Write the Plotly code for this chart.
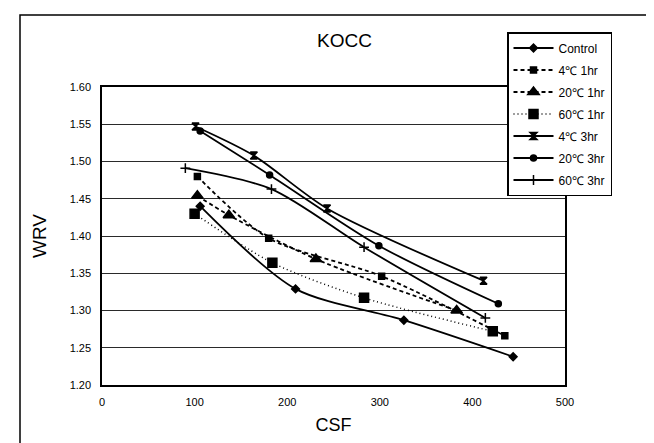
import plotly.graph_objects as go

# ---- data ----
series_names = ["Control", "4℃ 1hr", "20℃ 1hr", "60℃ 1hr", "4℃ 3hr", "20℃ 3hr", "60℃ 3hr"]

control_x = [106, 209, 326, 444]
control_y = [1.440, 1.329, 1.287, 1.238]

c4_1hr_x = [103, 180, 302, 435]
c4_1hr_y = [1.480, 1.397, 1.346, 1.266]

c20_1hr_x = [103, 137, 231, 383]
c20_1hr_y = [1.454, 1.428, 1.369, 1.300]

c60_1hr_x = [100, 184, 283, 422]
c60_1hr_y = [1.430, 1.364, 1.317, 1.272]

c4_3hr_x = [101, 164, 243, 412]
c4_3hr_y = [1.547, 1.508, 1.437, 1.340]

c20_3hr_x = [106, 181, 299, 428]
c20_3hr_y = [1.541, 1.482, 1.387, 1.309]

c60_3hr_x = [90, 183, 283, 414]
c60_3hr_y = [1.491, 1.463, 1.385, 1.290]

x_ticks = [0, 100, 200, 300, 400, 500]
y_ticks = [1.20, 1.25, 1.30, 1.35, 1.40, 1.45, 1.50, 1.55, 1.60]
y_tick_labels = ["1.20", "1.25", "1.30", "1.35", "1.40", "1.45", "1.50", "1.55", "1.60"]

xs = [control_x, c4_1hr_x, c20_1hr_x, c60_1hr_x, c4_3hr_x, c20_3hr_x, c60_3hr_x]
ys = [control_y, c4_1hr_y, c20_1hr_y, c60_1hr_y, c4_3hr_y, c20_3hr_y, c60_3hr_y]

styles = [
    dict(dash="solid", width=1.8, symbol="diamond", size=6),
    dict(dash="4px,3px", width=1.8, symbol="square", size=6),
    dict(dash="4px,3px", width=1.8, symbol="triangle-up", size=10),
    dict(dash="1px,3px", width=1.5, symbol="square", size=9),
    dict(dash="solid", width=1.8, symbol="hourglass", size=7),
    dict(dash="solid", width=1.8, symbol="circle", size=6),
    dict(dash="solid", width=1.8, symbol="cross-thin-open", size=7),
]

FONT = "Liberation Sans, Arial, sans-serif"

fig = go.Figure()
for i, (name, x, y, st) in enumerate(zip(series_names, xs, ys, styles)):
    fig.add_trace(go.Scatter(
        x=x, y=y, name=name, mode="lines+markers",
        legendgroup=f"g{i}",
        line=dict(color="black", width=st["width"], dash=st["dash"], shape="spline", smoothing=0.8),
        marker=dict(color="black", symbol=st["symbol"], size=st["size"],
                    line=dict(color="black", width=1.5)),
    ))

W, H = 654, 443
L, R, T, B = 94, 97, 79, 66
pw, ph = W - L - R, H - T - B

def px_x(p):
    return (p - L) / pw

def px_y(p):
    return (H - B - p) / ph

fig.update_layout(
    width=W, height=H,
    margin=dict(l=L, r=R, t=T, b=B),
    paper_bgcolor="white", plot_bgcolor="white",
    font=dict(family=FONT, color="black", size=11),
    showlegend=True,
    legend=dict(
        x=px_x(499), y=px_y(24), xanchor="left", yanchor="top",
        bordercolor="black", borderwidth=1.5, bgcolor="white",
        font=dict(family=FONT, size=12, color="black"),
        tracegroupgap=3, itemwidth=40,
    ),
    xaxis=dict(
        range=[0, 500], tickvals=x_ticks, ticktext=[str(v) for v in x_ticks],
        showgrid=False, zeroline=False,
        showline=True, linecolor="black", linewidth=1.5, mirror=True,
        ticks="", ticklabelstandoff=6,
        tickfont=dict(size=11),
        title=dict(text="CSF", font=dict(size=18), standoff=11),
    ),
    yaxis=dict(
        range=[1.20, 1.60], tickvals=y_ticks, ticktext=y_tick_labels,
        showgrid=True, gridcolor="#2a2a2a", gridwidth=1.2, zeroline=False,
        showline=True, linecolor="black", linewidth=1.5, mirror=True,
        ticks="", ticklabelstandoff=7,
        tickfont=dict(size=11),
        title=dict(text="WRV", font=dict(size=19), standoff=18),
    ),
    annotations=[dict(
        text="KOCC", xref="paper", yref="paper",
        x=px_x(336), y=px_y(33), xanchor="center", yanchor="middle",
        showarrow=False, font=dict(size=19, family=FONT),
    )],
    shapes=[dict(
        type="rect", xref="paper", yref="paper",
        x0=px_x(12), y0=px_y(460), x1=px_x(680), y1=px_y(7),
        line=dict(color="black", width=1.5), fillcolor="rgba(0,0,0,0)", layer="below",
    )],
)

fig.write_html("out.html")
